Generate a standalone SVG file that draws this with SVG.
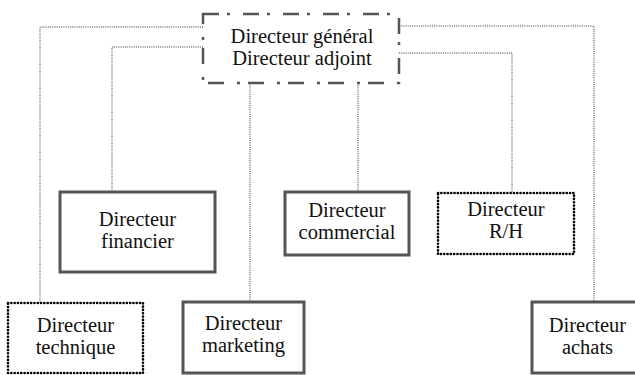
<svg xmlns="http://www.w3.org/2000/svg" width="635" height="375" viewBox="0 0 635 375">
<style>
text{font-family:'Liberation Serif','Times New Roman',serif;font-size:20.5px;fill:#111;text-anchor:middle}
.solid{fill:#fff;stroke:#555;stroke-width:3}
.dot{fill:#fff;stroke:#000;stroke-width:2.6;stroke-linecap:round;stroke-dasharray:0.1 3.2}
.dashdot{fill:#fff;stroke:#555;stroke-width:2.5;stroke-dasharray:16 8 3 13}
.conn{fill:none;stroke:#333;stroke-width:1;stroke-dasharray:1 1.2}
</style>
<rect width="635" height="375" fill="#fff"/>
<g id="connectors">
<polyline class="conn" points="203,27 40,27 40,303"/>
<polyline class="conn" points="203,47 112,47 112,192"/>
<polyline class="conn" points="399,26 594,26 594,302"/>
<polyline class="conn" points="399,53 512,53 512,193"/>
<line class="conn" x1="250" y1="83" x2="250" y2="302"/>
<line class="conn" x1="358" y1="83" x2="358" y2="192"/>
</g>
<g id="dg">
<rect class="dashdot" x="203" y="14" width="196" height="69"/>
<text x="302" y="43">Directeur général</text>
<text x="302" y="65">Directeur adjoint</text>
</g>
<g id="financier">
<rect class="solid" x="60" y="192" width="155" height="80"/>
<text x="137.5" y="226">Directeur</text>
<text x="137.5" y="248">financier</text>
</g>
<g id="commercial">
<rect class="solid" x="285" y="192" width="124" height="63"/>
<text x="347" y="217">Directeur</text>
<text x="347" y="239">commercial</text>
</g>
<g id="rh">
<rect class="dot" x="438" y="193" width="136" height="61"/>
<text x="506" y="216">Directeur</text>
<text x="506" y="238">R/H</text>
</g>
<g id="technique">
<rect class="dot" x="8" y="303" width="135" height="70"/>
<text x="75.5" y="332">Directeur</text>
<text x="75.5" y="354">technique</text>
</g>
<g id="marketing">
<rect class="solid" x="183" y="302" width="121" height="71"/>
<text x="243.5" y="330">Directeur</text>
<text x="243.5" y="352">marketing</text>
</g>
<g id="achats">
<rect class="solid" x="532" y="302" width="111" height="71"/>
<text x="587.5" y="332">Directeur</text>
<text x="587.5" y="354">achats</text>
</g>
</svg>
